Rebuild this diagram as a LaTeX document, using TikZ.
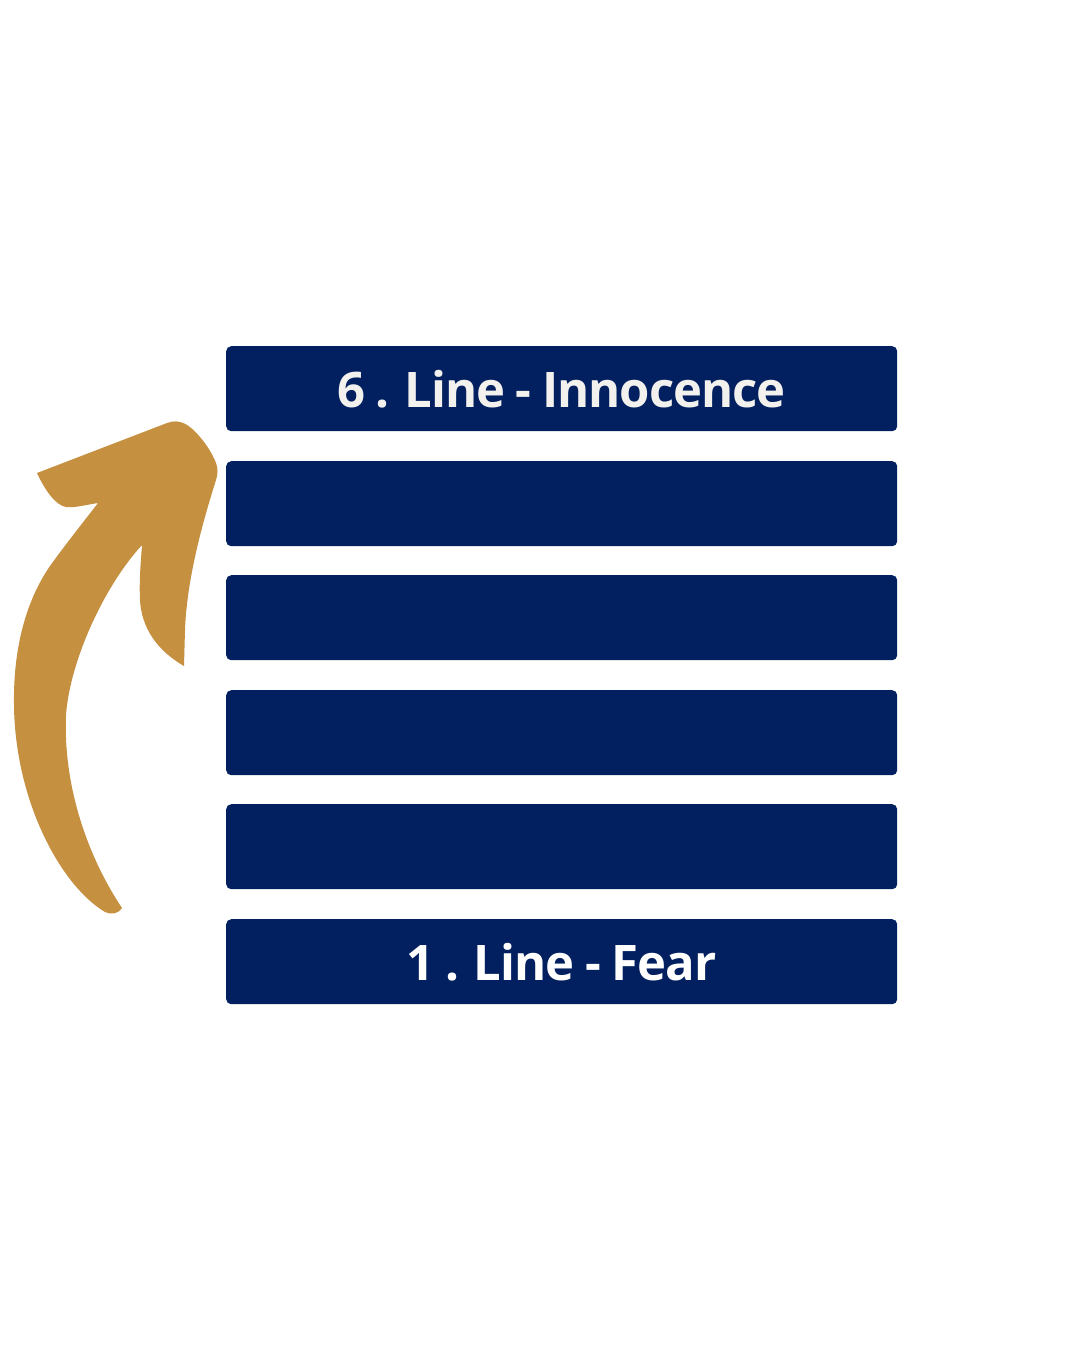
\documentclass[tikz,border=0pt]{standalone}
\usepackage{fontspec}
\newfontfamily\barfont[LetterSpace=-2.0,WordSpace=0.9]{Open Sans}
\definecolor{navy}{HTML}{02205F}
\definecolor{gold}{HTML}{C69041}
\definecolor{offwhite}{HTML}{F3F1ED}
\begin{document}
\begin{tikzpicture}[x=1pt,y=-1pt,
  bar/.style={fill=navy,rounded corners=5pt,minimum width=671pt,minimum height=85pt,inner sep=0pt,anchor=north west},
  bartext/.style={anchor=base,text=offwhite,inner sep=0pt,font=\barfont\bfseries\fontsize{49}{58}\selectfont}]
\useasboundingbox (0,0) rectangle (1080,1350);
\fill[white] (0,0) rectangle (1080,1350);
\node[bar] (b6) at (226,346) {};
\node[bar] (b5) at (226,461) {};
\node[bar] (b4) at (226,575) {};
\node[bar] (b3) at (226,690) {};
\node[bar] (b2) at (226,804) {};
\node[bar] (b1) at (226,919) {};
\node[bartext] (t6) at (561.5,407) {6 . Line - Innocence};
\node[bartext,text=white] (t1) at (561.5,980) {1 . Line - Fear};
\fill[gold] (37,473) -- (167,423)
  .. controls (180,418) and (190,425) .. (200,437)
  .. controls (207,445) and (213,455) .. (216,463)
  .. controls (218,468) and (218,474) .. (216,480)
  .. controls (205,515) and (187,575) .. (185,630)
  -- (184,666)
  .. controls (165,655) and (142,635) .. (140,600)
  .. controls (139,580) and (141,560) .. (142,545)
  .. controls (105,585) and (70,660) .. (66,715)
  .. controls (63,790) and (90,860) .. (122,908)
  .. controls (118,914) and (111,915) .. (105,912)
  .. controls (60,885) and (15,800) .. (14,705)
  .. controls (13,640) and (30,595) .. (50,566)
  .. controls (65,545) and (85,520) .. (98,503)
  .. controls (85,505) and (75,508) .. (66,507)
  .. controls (55,505) and (45,490) .. (37,473) -- cycle;
\end{tikzpicture}
\end{document}
